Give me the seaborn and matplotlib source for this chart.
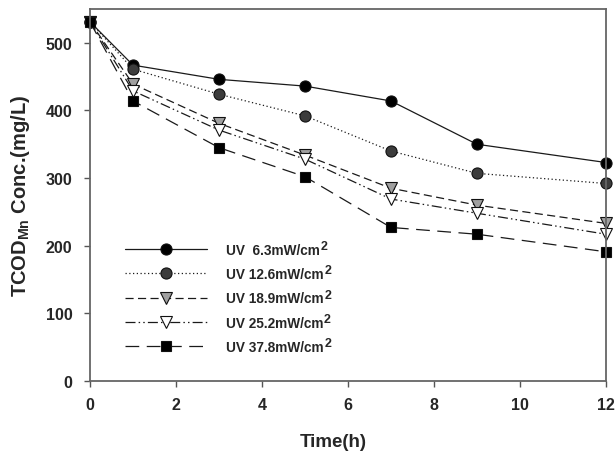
import matplotlib
matplotlib.use("Agg")
import matplotlib.pyplot as plt
import seaborn as sns

# Sampling times (h)
time_h = [0, 1, 3, 5, 7, 9, 12]

# TCOD_Mn concentration (mg/L) under each UV intensity
uv_6_3 = [531, 467, 446, 436, 414, 350, 323]
uv_12_6 = [531, 461, 424, 392, 340, 307, 292]
uv_18_9 = [531, 439, 381, 334, 285, 260, 233]
uv_25_2 = [531, 429, 371, 328, 269, 248, 217]
uv_37_8 = [531, 414, 345, 302, 227, 217, 191]

series_labels = [
    "UV  6.3mW/cm",
    "UV 12.6mW/cm",
    "UV 18.9mW/cm",
    "UV 25.2mW/cm",
    "UV 37.8mW/cm",
]
x_ticks = [0, 2, 4, 6, 8, 10, 12]
y_ticks = [0, 100, 200, 300, 400, 500]

sns.set_style("ticks")
plt.rcParams["font.family"] = ["Liberation Sans", "DejaVu Sans"]
plt.rcParams["font.weight"] = "bold"
plt.rcParams["mathtext.fontset"] = "custom"
plt.rcParams["mathtext.rm"] = "Liberation Sans:bold"
plt.rcParams["mathtext.bf"] = "Liberation Sans:bold"
plt.rcParams["mathtext.it"] = "Liberation Sans:bold"

fig = plt.figure(figsize=(6.15, 4.52), dpi=100)
ax = fig.add_axes([0.1463, 0.1549, 0.839, 0.823])

styles = [
    dict(marker="o", linestyle="-", mfc="black", ms=8),
    dict(marker="o", linestyle=(0, (1, 2)), mfc="#3c3c3c", ms=8),
    dict(marker="v", linestyle=(0, (6.5, 3.5)), mfc="#a0a0a0", ms=8),
    dict(marker="v", linestyle=(0, (8, 2.5, 1.2, 2.5, 1.2, 2.5)), mfc="white", ms=8),
    dict(marker="s", linestyle=(0, (11, 6)), mfc="black", ms=6.5),
]
all_series = [uv_6_3, uv_12_6, uv_18_9, uv_25_2, uv_37_8]

for values, label, st in zip(all_series, series_labels, styles):
    sns.lineplot(
        x=time_h, y=values, ax=ax, color="#1a1a1a", linewidth=0.9,
        linestyle=st["linestyle"], marker=st["marker"], markersize=st["ms"],
        markerfacecolor=st["mfc"], markeredgecolor="#111111",
        markeredgewidth=0.8, label=label, clip_on=False,
    )

ax.set_xlim(0, 12)
ax.set_ylim(0, 550)
ax.set_xticks(x_ticks)
ax.set_yticks(y_ticks)
ax.tick_params(axis="both", direction="out", length=4.5, width=1,
               color="#555555", labelsize=11.5)
ax.tick_params(axis="x", pad=7)
ax.tick_params(axis="y", pad=8)
for lab in ax.get_xticklabels() + ax.get_yticklabels():
    lab.set_fontweight("bold")

for spine in ax.spines.values():
    spine.set_visible(True)
    spine.set_color("#666666")
    spine.set_linewidth(1.3)

ax.set_xlabel("Time(h)", fontsize=13.5, fontweight="bold")
ax.xaxis.set_label_coords(0.471, -0.141)
ax.set_ylabel(r"TCOD$_{\mathbf{Mn}}$ Conc.(mg/L)", fontsize=14.5,
              fontweight="bold", labelpad=10)

handles, labels = ax.get_legend_handles_labels()
leg = ax.legend(
    handles, labels, loc="upper left", bbox_to_anchor=(0.068, 0.371),
    frameon=False, fontsize=9.8, handlelength=6, handletextpad=1.4,
    labelspacing=0.75, borderpad=0, borderaxespad=0,
)
for t in leg.get_texts():
    t.set_fontweight("bold")

# superscript "2" after each legend unit, placed once the legend is laid out
fig.canvas.draw()
for t in leg.get_texts():
    ax.annotate("2", xy=(1, 0), xycoords=t, xytext=(0.6, 3.5),
                textcoords="offset points", ha="left", va="bottom",
                fontsize=9, fontweight="bold", zorder=10)

fig.savefig("out.png", dpi=100)
